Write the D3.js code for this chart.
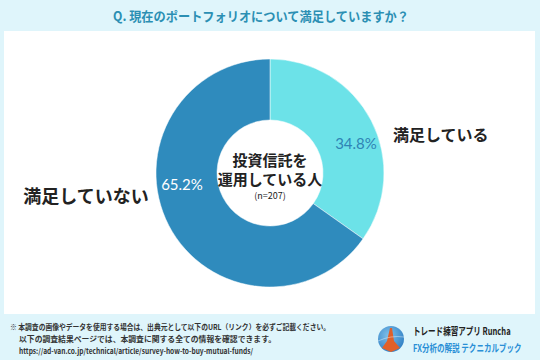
<!DOCTYPE html>
<html>
<head>
<meta charset="utf-8">
<script src="https://cdn.jsdelivr.net/npm/d3@7"></script>
<style>
  body { margin: 0; background: #dff5fb; }
  svg { display: block; font-family: "Noto Sans CJK JP", "Noto Sans", sans-serif; }
</style>
</head>
<body>
<script>
// survey answers
var categories = ['満足している', '満足していない'];
var values = [34.8, 65.2];
var colors = ['#6ce2e8', '#2f8bbd'];
var title = 'Q. 現在のポートフォリオについて満足していますか？';
var centerLines = ['投資信託を', '運用している人'];
var sampleText = '(n=207)';
var notes = [
  '※ 本調査の画像やデータを使用する場合は、出典元として以下のURL（リンク）を必ずご記載ください。',
  '以下の調査結果ページでは、本調査に関する全ての情報を確認できます。',
  'https://ad-van.co.jp/technical/article/survey-how-to-buy-mutual-funds/'
];
var noteWidths = [320, 257, 234];
var brandLines = ['トレード練習アプリ  Runcha', 'FX分析の解説  テクニカルブック'];

var W = 540, H = 360;
var svg = d3.select('body').append('svg')
  .attr('width', W)
  .attr('height', H);

svg.append('rect')
  .attr('width', W).attr('height', H)
  .attr('fill', '#dff5fb');

// white panel
svg.append('rect')
  .attr('x', 4).attr('y', 31)
  .attr('width', 531).attr('height', 283)
  .attr('fill', '#ffffff');

svg.append('text')
  .attr('x', 113).attr('y', 21)
  .attr('textLength', 296)
  .attr('lengthAdjust', 'spacingAndGlyphs')
  .attr('font-size', 13)
  .attr('font-weight', 'bold')
  .attr('fill', '#2b8fb3')
  .text(title);

var cx = 270, cy = 173, R = 114, r0 = 53;

var pie = d3.pie().sort(null).value(d => d);
var arc = d3.arc().innerRadius(r0).outerRadius(R);
var arcs = pie(values);

var g = svg.append('g').attr('transform', 'translate(' + cx + ',' + cy + ')');

g.selectAll('path')
  .data(arcs)
  .join('path')
  .attr('d', arc)
  .attr('fill', (d, i) => colors[i])
  .attr('stroke', '#ffffff')
  .attr('stroke-width', 0.5);

// percent labels
var pctPos = [[86, -28], [-88, 13]];
g.selectAll('text.pct')
  .data(arcs)
  .join('text')
  .attr('class', 'pct')
  .attr('x', (d, i) => pctPos[i][0])
  .attr('y', (d, i) => pctPos[i][1])
  .attr('text-anchor', 'middle')
  .attr('dominant-baseline', 'middle')
  .attr('font-size', 15)
  .attr('font-family', 'Lato, "Noto Sans", sans-serif')
  .attr('fill', (d, i) => i == 0 ? '#2f84b5' : '#ffffff')
  .text(d => d.data.toFixed(1) + '%');

// category labels outside
svg.append('text')
  .attr('x', 393).attr('y', 137)
  .attr('dominant-baseline', 'middle')
  .attr('font-size', 16)
  .attr('font-weight', 'bold')
  .attr('fill', '#222')
  .text(categories[0]);

svg.append('text')
  .attr('x', 86).attr('y', 198)
  .attr('text-anchor', 'middle')
  .attr('dominant-baseline', 'middle')
  .attr('font-size', 18)
  .attr('font-weight', 'bold')
  .attr('fill', '#222')
  .text(categories[1]);

// center text
g.selectAll('text.center')
  .data(centerLines)
  .join('text')
  .attr('class', 'center')
  .attr('x', 0)
  .attr('y', (d, i) => -11 + i * 19)
  .attr('text-anchor', 'middle')
  .attr('dominant-baseline', 'middle')
  .attr('font-size', 15)
  .attr('font-weight', 'bold')
  .attr('fill', '#222')
  .text(d => d);

g.append('text')
  .attr('x', 0).attr('y', 24)
  .attr('text-anchor', 'middle')
  .attr('dominant-baseline', 'middle')
  .attr('font-size', 9)
  .attr('fill', '#222')
  .text(sampleText);

// footer notes
svg.selectAll('text.note')
  .data(notes)
  .join('text')
  .attr('class', 'note')
  .attr('x', (d, i) => i == 0 ? 10 : 19)
  .attr('y', (d, i) => 330 + i * 12)
  .attr('textLength', (d, i) => noteWidths[i])
  .attr('lengthAdjust', 'spacingAndGlyphs')
  .attr('font-size', 7.5)
  .attr('font-weight', 'bold')
  .attr('fill', '#333')
  .text(d => d);

// logo
var defs = svg.append('defs');
var grad = defs.append('radialGradient').attr('id', 'lg')
  .attr('cx', '40%').attr('cy', '35%').attr('r', '70%');
grad.append('stop').attr('offset', '0%').attr('stop-color', '#7fc0ea');
grad.append('stop').attr('offset', '100%').attr('stop-color', '#2f7fc4');

var logo = svg.append('g').attr('transform', 'translate(391,339)');
logo.append('circle').attr('r', 13).attr('fill', 'url(#lg)');
logo.append('path')
  .attr('d', 'M-1,-11 L1,-11 L3,2 L9,9 L0,13 L-9,9 L-4,2 Z')
  .attr('fill', '#e0602a');
logo.append('path')
  .attr('d', 'M-13,2 Q0,-4 13,-2')
  .attr('stroke', '#ffffff')
  .attr('stroke-opacity', 0.4)
  .attr('fill', 'none');

// brand lines, squeezed horizontally like the condensed original
svg.selectAll('text.brand')
  .data(brandLines)
  .join('text')
  .attr('class', 'brand')
  .attr('transform', (d, i) => 'translate(413,' + (335 + i * 17) + ') scale(0.72,1)')
  .attr('font-size', 10.5)
  .attr('font-weight', 'bold')
  .attr('fill', (d, i) => i == 0 ? '#222' : '#2a8fd6')
  .text(d => d);
</script>
</body>
</html>
